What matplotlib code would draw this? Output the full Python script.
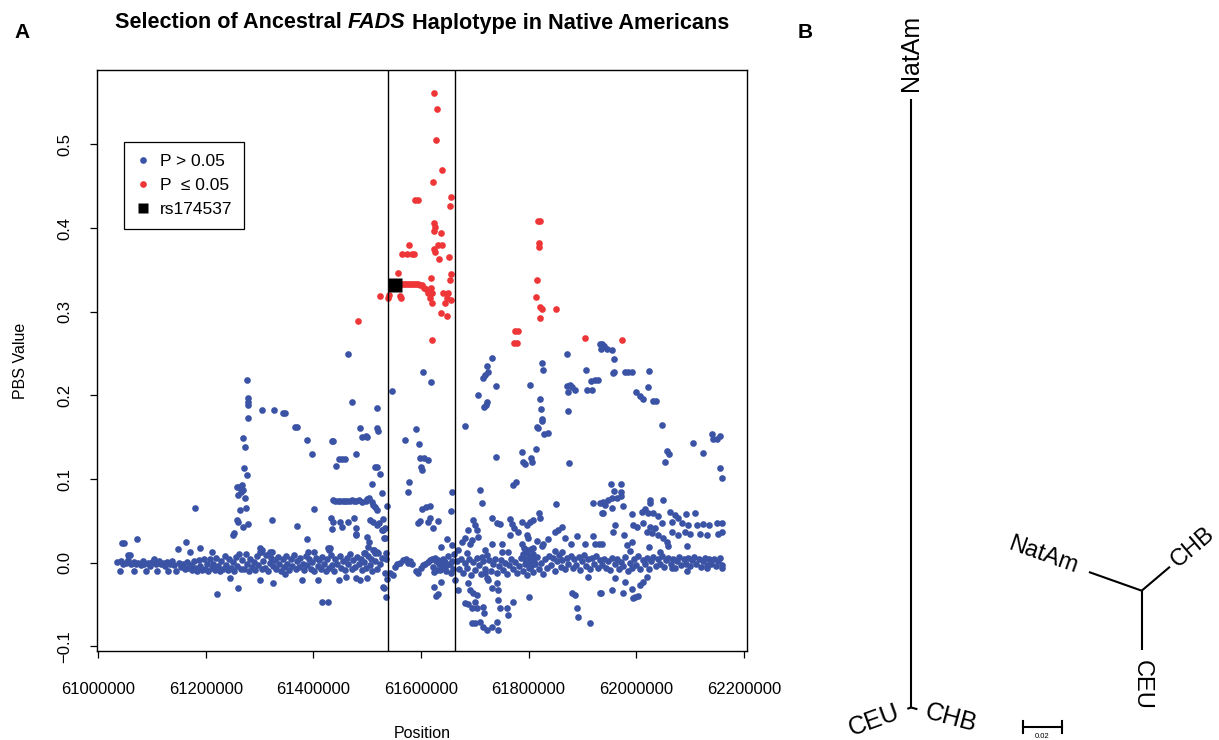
import numpy as np
import matplotlib.pyplot as plt
from matplotlib.lines import Line2D

plt.rcParams['font.family'] = ['Liberation Sans', 'DejaVu Sans']

# PBS values, positions in kb (chr11)
blue_left_band = [
    (61036, 0.001), (61041, -0.010), (61043, 0.002), (61047, -0.001), (61052, 0.000), (61056, 0.003),
    (61059, 0.009), (61062, -0.002), (61066, 0.001), (61067, -0.010), (61071, -0.001), (61075, 0.000),
    (61079, -0.003), (61083, 0.002), (61086, -0.001), (61089, -0.010), (61092, 0.000), (61096, -0.004),
    (61100, 0.001), (61104, 0.004), (61107, -0.001), (61110, -0.010), (61113, 0.002), (61117, -0.002),
    (61121, 0.000), (61125, -0.004), (61128, 0.001), (61130, -0.010), (61134, -0.002), (61138, 0.002),
    (61142, -0.003), (61145, -0.010), (61149, 0.016), (61150, 0.000), (61154, -0.005), (61158, -0.002),
    (61161, -0.008), (61164, 0.025), (61165, 0.001), (61168, -0.006), (61171, 0.013), (61172, -0.003),
    (61175, -0.009), (61178, 0.002), (61181, -0.006), (61184, -0.010), (61187, 0.003), (61190, 0.018),
    (61190, -0.004), (61193, -0.009), (61196, 0.005), (61199, -0.007), (61202, -0.002), (61205, -0.010),
    (61208, 0.004), (61211, -0.006), (61212, 0.013), (61214, -0.001), (61217, -0.009), (61220, 0.006),
    (61221, -0.037), (61223, -0.004), (61226, -0.010), (61229, 0.002), (61232, -0.007), (61235, 0.008),
    (61238, -0.003), (61241, -0.009), (61244, 0.005), (61245, -0.018), (61247, -0.006), (61250, 0.001),
    (61253, -0.010), (61256, 0.007), (61259, -0.004), (61260, -0.030), (61262, 0.010), (61265, -0.008),
    (61045, 0.024), (61049, 0.024), (61072, 0.028), (61055, 0.009), (61180, 0.065), (61253, 0.035),
    (61251, 0.033),
]
blue_left_upper = [
    (61277, 0.219), (61279, 0.197), (61279, 0.192), (61279, 0.188), (61279, 0.173), (61270, 0.149),
    (61273, 0.138), (61271, 0.113), (61277, 0.105), (61258, 0.090), (61270, 0.087), (61260, 0.081),
    (61273, 0.077), (61264, 0.063), (61258, 0.051), (61260, 0.049), (61270, 0.043), (61262, 0.090),
    (61268, 0.093), (61266, 0.084), (61275, 0.066), (61279, 0.046),
    (61305, 0.183), (61327, 0.183), (61344, 0.179), (61348, 0.179), (61366, 0.162), (61370, 0.162),
    (61388, 0.147), (61398, 0.130),
]
blue_mid_band = [
    (61268, 0.003), (61271, -0.007), (61274, 0.010), (61277, -0.002), (61280, -0.010), (61283, 0.005),
    (61286, -0.005), (61289, 0.001), (61292, -0.009), (61295, 0.008), (61298, -0.003), (61301, 0.013),
    (61301, -0.021), (61304, -0.008), (61305, 0.015), (61307, 0.002), (61310, -0.006), (61313, 0.009),
    (61316, -0.010), (61319, 0.000), (61322, 0.006), (61323, 0.013), (61325, -0.024), (61325, -0.004),
    (61328, 0.003), (61331, -0.008), (61334, 0.007), (61337, -0.001), (61340, -0.010), (61343, 0.004),
    (61346, -0.005), (61348, -0.014), (61349, 0.008), (61352, -0.002), (61355, -0.009), (61358, 0.005),
    (61361, -0.004), (61364, 0.009), (61367, -0.008), (61370, 0.002), (61373, -0.005), (61376, 0.006),
    (61379, -0.021), (61380, -0.001), (61383, -0.009), (61386, 0.008), (61389, -0.003), (61392, 0.004),
    (61395, -0.007), (61398, 0.001), (61401, 0.013), (61402, -0.010), (61405, 0.006), (61408, -0.004),
    (61409, -0.021), (61411, 0.003), (61414, -0.008), (61416, -0.047), (61417, 0.007), (61420, -0.002),
    (61423, -0.010), (61426, 0.004), (61427, -0.047), (61429, -0.006), (61431, 0.018), (61432, 0.009),
    (61435, -0.003), (61438, -0.010), (61441, 0.005), (61444, -0.001), (61448, -0.021), (61449, 0.008),
    (61452, -0.006), (61455, 0.002), (61458, -0.009), (61461, -0.017), (61462, 0.006), (61465, -0.002),
    (61468, 0.010), (61471, -0.008), (61474, 0.003), (61477, -0.005), (61480, -0.018), (61481, 0.007),
    (61484, -0.002), (61487, -0.021), (61488, 0.004), (61491, -0.009), (61494, 0.012), (61495, 0.001),
    (61498, -0.006), (61500, -0.018), (61502, 0.008), (61505, -0.003), (61508, 0.005), (61510, -0.010),
    (61513, 0.015), (61515, 0.002), (61518, -0.007), (61521, 0.012), (61524, -0.002), (61527, 0.006),
    (61530, -0.029), (61532, -0.030), (61533, -0.012), (61535, -0.041), (61536, 0.004), (61537, -0.020),
]
blue_mid_upper = [
    (61465, 0.250), (61472, 0.192), (61435, 0.146), (61437, 0.146), (61448, 0.124), (61454, 0.124),
    (61459, 0.124), (61442, 0.116), (61480, 0.130), (61487, 0.161), (61491, 0.150), (61498, 0.151),
    (61500, 0.150), (61519, 0.161), (61521, 0.157), (61519, 0.185), (61515, 0.114), (61519, 0.114),
    (61524, 0.106), (61509, 0.094), (61528, 0.083), (61537, 0.068), (61519, 0.063),
    (61437, 0.075), (61441, 0.074), (61446, 0.074), (61450, 0.074), (61455, 0.074), (61459, 0.074),
    (61463, 0.074), (61468, 0.074), (61472, 0.075), (61476, 0.074), (61480, 0.074), (61485, 0.075),
    (61491, 0.073), (61498, 0.074), (61500, 0.076), (61504, 0.077), (61509, 0.073), (61511, 0.069),
    (61515, 0.067),
    (61401, 0.064), (61323, 0.051), (61370, 0.044), (61388, 0.028), (61433, 0.053), (61437, 0.049),
    (61450, 0.049), (61454, 0.043), (61435, 0.040), (61465, 0.049), (61476, 0.053), (61480, 0.041),
    (61479, 0.033), (61506, 0.051), (61511, 0.049), (61519, 0.045), (61522, 0.047), (61528, 0.039),
    (61532, 0.029), (61500, 0.031), (61504, 0.025), (61502, 0.019), (61511, 0.015), (61496, 0.012),
    (61515, 0.012), (61519, 0.013), (61480, 0.034), (61427, 0.018), (61429, 0.015), (61390, 0.013),
    (61301, 0.018), (61303, 0.013), (61320, 0.013), (61530, 0.039), (61533, 0.029), (61535, 0.012),
    (61530, 0.052), (61533, 0.042),
]
blue_core = [
    (61604, 0.228), (61619, 0.216), (61546, 0.205), (61591, 0.160), (61571, 0.147), (61597, 0.142),
    (61598, 0.125), (61606, 0.125), (61613, 0.123), (61600, 0.114), (61602, 0.111), (61578, 0.096),
    (61576, 0.084), (61658, 0.084), (61602, 0.064), (61610, 0.067), (61617, 0.068), (61656, 0.062),
    (61598, 0.050), (61595, 0.047), (61617, 0.053), (61613, 0.049), (61632, 0.050), (61623, 0.041),
    (61649, 0.028), (61637, 0.019), (61658, 0.021),
    (61543, -0.012), (61548, -0.015), (61552, -0.005), (61556, -0.002), (61561, 0.000), (61567, 0.003),
    (61572, 0.004), (61576, 0.000), (61580, 0.002), (61584, -0.001), (61591, -0.010), (61595, -0.012),
    (61600, -0.006), (61604, -0.003), (61608, -0.001), (61613, 0.001), (61617, 0.003), (61621, 0.005),
    (61623, -0.005), (61625, -0.011), (61626, 0.006), (61628, 0.002), (61630, -0.009), (61632, 0.003),
    (61634, -0.002), (61636, -0.009), (61637, 0.000), (61639, -0.003), (61641, 0.004), (61643, -0.006),
    (61645, 0.001), (61647, -0.010), (61649, -0.003), (61651, 0.008), (61654, -0.001), (61656, -0.012),
    (61658, 0.002), (61660, -0.007), (61662, 0.010), (61625, -0.029), (61637, -0.023), (61628, -0.040),
    (61632, -0.037), (61664, -0.021),
]
blue_right = [
    (61732, 0.245), (61723, 0.235), (61725, 0.228), (61719, 0.224), (61716, 0.221), (61740, 0.211),
    (61706, 0.201), (61723, 0.192), (61721, 0.188), (61717, 0.186), (61682, 0.163), (61740, 0.126),
    (61710, 0.087), (61714, 0.072), (61777, 0.096), (61771, 0.093), (61788, 0.132), (61790, 0.120),
    (61794, 0.118), (61805, 0.125), (61807, 0.120), (61814, 0.136), (61803, 0.213), (61825, 0.239),
    (61827, 0.230), (61822, 0.196), (61823, 0.184), (61825, 0.172), (61825, 0.169), (61816, 0.162),
    (61818, 0.161), (61829, 0.154), (61836, 0.155),
    (61872, 0.249), (61907, 0.230), (61872, 0.211), (61877, 0.212), (61881, 0.210), (61887, 0.206),
    (61874, 0.204), (61874, 0.181), (61909, 0.206), (61918, 0.206), (61916, 0.217), (61924, 0.219),
    (61929, 0.219), (61933, 0.261), (61935, 0.255), (61875, 0.119), (61851, 0.070), (61920, 0.071),
    (61939, 0.071), (61939, 0.059),
    (61697, 0.051), (61701, 0.045), (61704, 0.039), (61706, 0.031), (61695, 0.027), (61688, 0.039),
    (61677, 0.025), (61682, 0.029), (61691, 0.023), (61669, 0.015), (61686, 0.012), (61719, 0.015),
    (61714, 0.007), (61723, 0.009), (61732, 0.053), (61742, 0.047), (61747, 0.046), (61751, 0.023),
    (61766, 0.052), (61769, 0.046), (61773, 0.041), (61766, 0.033), (61781, 0.037), (61788, 0.049),
    (61797, 0.045), (61803, 0.049), (61809, 0.051), (61820, 0.059), (61822, 0.053), (61797, 0.033),
    (61799, 0.029), (61816, 0.026), (61827, 0.023), (61836, 0.028), (61849, 0.037), (61855, 0.039),
    (61862, 0.043), (61868, 0.029), (61879, 0.023), (61890, 0.032), (61905, 0.023), (61920, 0.032),
    (61924, 0.023), (61931, 0.023), (61849, 0.014), (61762, 0.013), (61797, 0.015), (61809, 0.018),
    (61825, 0.020), (61788, 0.023), (61751, 0.013), (61732, 0.023), (61862, 0.013),
    (61790, 0.010), (61794, 0.005), (61797, 0.012), (61801, 0.002), (61803, 0.008), (61805, 0.016),
    (61807, 0.004), (61809, 0.010), (61792, 0.018), (61799, -0.002), (61805, -0.004), (61811, 0.001),
    (61667, 0.002), (61671, -0.008), (61675, 0.005), (61678, -0.012), (61682, 0.000), (61686, -0.006),
    (61690, 0.004), (61693, -0.015), (61697, 0.001), (61701, -0.009), (61704, 0.006), (61708, -0.003),
    (61712, -0.014), (61716, 0.002), (61719, -0.007), (61723, -0.018), (61727, 0.003), (61730, -0.010),
    (61734, -0.002), (61738, 0.005), (61742, -0.012), (61745, -0.004), (61749, 0.003), (61753, -0.009),
    (61756, 0.000), (61760, -0.014), (61764, -0.003), (61767, 0.004), (61771, -0.008), (61775, 0.001),
    (61779, -0.012), (61782, -0.004), (61786, 0.006), (61790, -0.010), (61793, -0.001), (61797, -0.015),
    (61801, -0.006), (61805, 0.003), (61808, -0.011), (61812, -0.002), (61816, 0.007), (61819, -0.008),
    (61823, 0.000), (61827, -0.013), (61830, 0.004), (61834, -0.006), (61838, 0.008), (61841, -0.003),
    (61845, 0.006), (61849, -0.010), (61852, 0.002), (61856, 0.009), (61860, -0.005), (61863, 0.003),
    (61867, -0.008), (61871, 0.006), (61874, -0.002), (61878, 0.008), (61882, -0.006), (61885, 0.004),
    (61889, -0.003), (61893, 0.007), (61896, -0.009), (61900, 0.002), (61904, 0.009), (61907, -0.004),
    (61911, 0.005), (61915, -0.008), (61918, 0.006), (61922, -0.002), (61926, 0.008), (61929, -0.006),
    (61933, 0.003), (61937, -0.003),
    (61669, -0.033), (61688, -0.024), (61691, -0.033), (61697, -0.036), (61704, -0.039), (61682, -0.048),
    (61688, -0.049), (61701, -0.047), (61695, -0.054), (61704, -0.054), (61716, -0.053), (61717, -0.060),
    (61710, -0.071), (61695, -0.072), (61701, -0.072), (61716, -0.077), (61723, -0.080), (61732, -0.077),
    (61743, -0.080), (61742, -0.071), (61747, -0.054), (61762, -0.062), (61771, -0.047), (61760, -0.054),
    (61743, -0.045), (61732, -0.030), (61743, -0.033), (61725, -0.021), (61742, -0.024), (61719, -0.012),
    (61801, -0.041), (61881, -0.036), (61887, -0.039), (61890, -0.054), (61892, -0.065), (61914, -0.072),
    (61935, -0.036), (61911, -0.017),
]
blue_far = [
    (61937, 0.261), (61940, 0.259), (61946, 0.256), (61955, 0.254), (61959, 0.243), (61957, 0.227),
    (61959, 0.228), (61980, 0.228), (61985, 0.228), (61993, 0.228), (62024, 0.229), (62022, 0.210),
    (62000, 0.204), (62007, 0.199), (62013, 0.196), (62031, 0.193), (62037, 0.193), (62048, 0.165),
    (62058, 0.133), (62061, 0.130), (62054, 0.120), (62106, 0.143), (62125, 0.131), (62141, 0.154),
    (62143, 0.148), (62150, 0.148), (62156, 0.151), (62156, 0.113), (62160, 0.101),
    (61954, 0.094), (61972, 0.094), (61959, 0.086), (61972, 0.084), (61972, 0.080), (62026, 0.075),
    (62026, 0.071), (62050, 0.075), (61933, 0.071), (61939, 0.073), (61948, 0.075), (61955, 0.077),
    (61965, 0.077), (61942, 0.069), (61955, 0.065), (61976, 0.068), (61937, 0.059), (61993, 0.058),
    (62011, 0.061), (62017, 0.064), (62022, 0.059), (62031, 0.059), (62041, 0.056), (62063, 0.061),
    (62072, 0.057), (62078, 0.053), (62093, 0.058), (62110, 0.059), (61994, 0.045), (62002, 0.043),
    (62013, 0.047), (62026, 0.043), (62035, 0.041), (62048, 0.047), (62067, 0.049), (62085, 0.047),
    (62097, 0.045), (62113, 0.045), (62125, 0.046), (62136, 0.045), (62150, 0.047), (62160, 0.047),
    (62020, 0.037), (62030, 0.035), (62041, 0.033), (62050, 0.029), (62058, 0.025), (62060, 0.020),
    (62067, 0.037), (62078, 0.033), (62091, 0.037), (62100, 0.034), (62119, 0.034), (62132, 0.033),
    (62152, 0.034), (62160, 0.037), (62095, 0.020), (61961, 0.045), (61957, 0.037), (61978, 0.033),
    (61993, 0.025), (61983, 0.021), (61989, 0.014), (62024, 0.019), (62045, 0.013), (61937, 0.023),
    (61940, 0.005), (61944, -0.006), (61948, 0.002), (61952, -0.009), (61956, 0.006), (61960, -0.002),
    (61964, 0.004), (61968, -0.008), (61972, 0.001), (61976, -0.004), (61980, 0.007), (61984, -0.010),
    (61988, 0.000), (61992, -0.006), (61996, 0.005), (62000, -0.003), (62004, 0.008), (62008, -0.007),
    (62012, 0.003), (62016, -0.002), (62020, 0.006), (62024, -0.008), (62028, 0.002), (62032, 0.007),
    (62036, -0.004), (62040, 0.004), (62044, -0.001), (62048, 0.008), (62052, -0.005), (62056, 0.003),
    (62060, 0.006), (62064, -0.002), (62068, 0.005), (62072, -0.006), (62076, 0.002), (62080, 0.007),
    (62084, -0.003), (62088, 0.004), (62092, -0.001), (62096, 0.006), (62100, -0.004), (62104, 0.003),
    (62108, 0.007), (62112, -0.002), (62116, 0.004), (62120, -0.005), (62124, 0.002), (62128, 0.006),
    (62132, -0.003), (62136, 0.004), (62140, -0.001), (62144, 0.005), (62148, -0.004), (62152, 0.002),
    (62156, 0.006), (62160, -0.003),
    (61933, -0.036), (61955, -0.033), (61976, -0.036), (61961, -0.018), (61980, -0.023), (61993, -0.031),
    (61998, -0.041), (62004, -0.040), (61994, -0.042), (62007, -0.027), (62013, -0.023), (62020, -0.017),
    (62095, -0.010), (62067, -0.006), (62132, -0.006), (62160, -0.006),
]
red_core = [
    (61625, 0.562), (61630, 0.542), (61628, 0.505), (61639, 0.470), (61623, 0.455), (61589, 0.434),
    (61595, 0.434), (61656, 0.437), (61654, 0.427), (61625, 0.406), (61626, 0.401), (61624, 0.396),
    (61637, 0.394), (61632, 0.380), (61639, 0.380), (61578, 0.380), (61624, 0.375), (61626, 0.371),
    (61565, 0.369), (61574, 0.369), (61583, 0.369), (61588, 0.369), (61652, 0.366), (61634, 0.363),
    (61558, 0.346), (61619, 0.340), (61656, 0.345), (61654, 0.338),
    (61558, 0.333), (61561, 0.333), (61565, 0.333), (61569, 0.333), (61572, 0.333), (61576, 0.333),
    (61580, 0.333), (61584, 0.333), (61587, 0.333), (61591, 0.333), (61595, 0.333), (61598, 0.332),
    (61602, 0.332), (61606, 0.329), (61610, 0.327), (61613, 0.323),
    (61619, 0.329), (61621, 0.322), (61617, 0.316), (61621, 0.310), (61524, 0.319), (61539, 0.316),
    (61541, 0.320), (61561, 0.319), (61563, 0.316), (61641, 0.322), (61651, 0.322), (61649, 0.316),
    (61656, 0.314), (61645, 0.311), (61637, 0.298), (61649, 0.295), (61621, 0.266), (61483, 0.289),
]
red_right = [
    (61818, 0.409), (61822, 0.409), (61820, 0.382), (61820, 0.378), (61816, 0.338), (61813, 0.318),
    (61822, 0.306), (61825, 0.303), (61851, 0.303), (61822, 0.292), (61775, 0.277), (61781, 0.277),
    (61773, 0.263), (61779, 0.263), (61905, 0.269), (61974, 0.266),
]
snp_kb, snp_pbs = 61552.7, 0.332
region_kb = [61539, 61664]

# panel B: branch lengths (PBS units) and directions (degrees)
tree_labels = ['NatAm', 'CHB', 'CEU']
fads_len = [0.312, 0.0034, 0.002]
fads_angle = [90, -15, 200]
genome_len = [0.0287, 0.019, 0.0304]
genome_angle = [160.5, 40.3, -90]
scale_len = 0.02

blue_col = '#3A53A4'
red_col = '#EE3537'


def split(pts):
    arr = np.array(pts, dtype=float)
    return arr[:, 0] * 1000, arr[:, 1]


fig = plt.figure(figsize=(12.19, 7.40), dpi=100)
ax = fig.add_axes([97 / 1219, 89 / 740, 650 / 1219, 581 / 740])

for pts in [blue_left_band, blue_left_upper, blue_mid_band, blue_mid_upper, blue_core, blue_right, blue_far]:
    x, y = split(pts)
    ax.plot(x, y, 'o', ms=4.8, color=blue_col, mec='none')
for pts in [red_core, red_right]:
    x, y = split(pts)
    ax.plot(x, y, 'o', ms=4.8, color=red_col, mec='none')
ax.plot([snp_kb * 1000], [snp_pbs], 's', ms=9.5, color='black', mec='none')

for kb in region_kb:
    ax.axvline(kb * 1000, color='black', lw=1.0)

ax.set_xlim(60998000, 62206000)
ax.set_ylim(-0.1055, 0.589)
ax.set_xticks(np.arange(61000000, 62200001, 200000))
ax.set_xticklabels(['%d' % v for v in np.arange(61000000, 62200001, 200000)])
ax.set_yticks([-0.1, 0.0, 0.1, 0.2, 0.3, 0.4, 0.5])
ax.set_yticklabels(['\u22120.1', '0.0', '0.1', '0.2', '0.3', '0.4', '0.5'], rotation=90, va='center')
ax.tick_params(axis='x', length=5, width=0.9, labelsize=12, pad=17)
ax.tick_params(axis='y', length=5, width=0.9, labelsize=12, pad=13)
for s in ax.spines.values():
    s.set_linewidth(1.0)
ax.set_xlabel('Position', fontsize=11.5, labelpad=21)
ax.set_ylabel('PBS Value', fontsize=11.5, labelpad=21)

handles = [
    Line2D([], [], ls='none', marker='o', ms=4.8, color=blue_col, mec='none'),
    Line2D([], [], ls='none', marker='o', ms=4.8, color=red_col, mec='none'),
    Line2D([], [], ls='none', marker='s', ms=7, color='black', mec='none'),
]
leg = ax.legend(handles, ['P > 0.05', 'P  \u2264 0.05', 'rs174537'], loc='upper left',
                bbox_to_anchor=(0.0415, 0.876), borderaxespad=0, fancybox=False,
                edgecolor='black', framealpha=1, fontsize=12.5, handlelength=0.8,
                handletextpad=0.55, labelspacing=0.5, borderpad=0.7)
leg.get_frame().set_linewidth(0.9)

# title with italic gene name
renderer = fig.canvas.get_renderer()
parts = [('Selection of Ancestral ', 'normal'), ('FADS', 'italic'), (' Haplotype in Native Americans', 'normal')]
texts = [fig.text(0, 1 - 23 / 740, s, fontsize=15.6, fontweight='bold', fontstyle=st, va='center')
         for s, st in parts]
widths = [t.get_window_extent(renderer).width for t in texts]
x0 = 422 - sum(widths) / 2
for t, w in zip(texts, widths):
    t.set_x(x0 / 1219)
    x0 += w

fig.text(22 / 1219, 1 - 33 / 740, 'A', fontsize=15, fontweight='bold', ha='center', va='center')
fig.text(805 / 1219, 1 - 33 / 740, 'B', fontsize=15, fontweight='bold', ha='center', va='center')

# panel B trees, 1950 px per PBS unit
bx = fig.add_axes([800 / 1219, 0, 419 / 1219, 1])
bx.set_xlim(0, 419 / 1950)
bx.set_ylim(0, 740 / 1950)
bx.axis('off')


def draw_tree(node, lengths, angles, gaps, size):
    for lab, ln, ang, gap in zip(tree_labels, lengths, angles, gaps):
        a = np.deg2rad(ang)
        tip = (node[0] + ln * np.cos(a), node[1] + ln * np.sin(a))
        bx.plot([node[0], tip[0]], [node[1], tip[1]], color='black', lw=1.5, solid_capstyle='butt')
        lx, ly = tip[0] + gap * np.cos(a), tip[1] + gap * np.sin(a)
        right = np.cos(a) > 1e-6 or (abs(np.cos(a)) <= 1e-6 and np.sin(a) > 0)
        rot = ang if right else ang - 180
        if abs(np.cos(a)) <= 1e-6 and np.sin(a) < 0:
            rot, ha = -90, 'left'
        else:
            ha = 'left' if right else 'right'
        bx.text(lx, ly, lab, fontsize=size, rotation=rot, rotation_mode='anchor', ha=ha, va='center')


draw_tree(((911 - 800) / 1950, (740 - 707.5) / 1950), fads_len, fads_angle, [0.004, 0.0045, 0.0045], 18)
draw_tree(((1141.7 - 800) / 1950, (740 - 590.7) / 1950), genome_len, genome_angle, [0.0065, 0.0025, 0.005], 17)

sb_x, sb_y = (1023 - 800) / 1950, (740 - 727) / 1950
bx.plot([sb_x, sb_x + scale_len], [sb_y, sb_y], color='black', lw=1.5)
for xx in [sb_x, sb_x + scale_len]:
    bx.plot([xx, xx], [sb_y - 0.003, sb_y + 0.003], color='black', lw=1.5)
bx.text(sb_x + scale_len / 2, (740 - 736) / 1950, '0.02', fontsize=5.5, ha='center', va='center')

fig.savefig('out.png', dpi=100)
